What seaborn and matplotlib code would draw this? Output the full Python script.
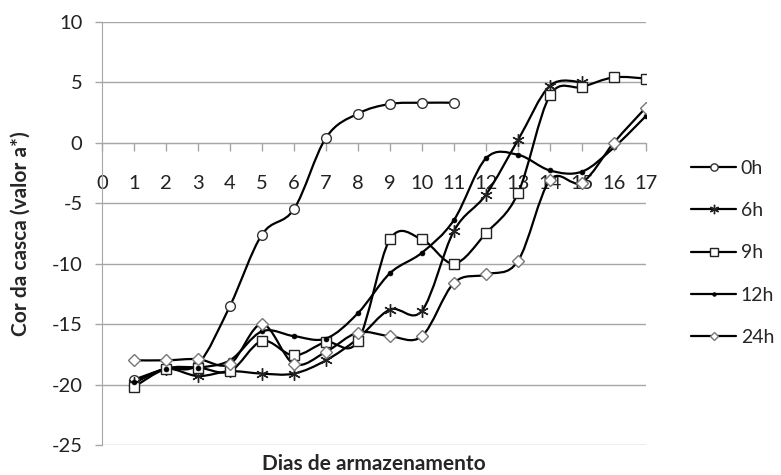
import numpy as np
import pandas as pd
import matplotlib
matplotlib.use('Agg')
import matplotlib.pyplot as plt
from matplotlib.path import Path
from matplotlib.patches import PathPatch
from matplotlib.lines import Line2D
import seaborn as sns

# valores (cor da casca, valor a*)
dias = list(range(1, 18))
h0 = [-19.6, -18.7, -18.3, -13.5, -7.6, -5.5, 0.4, 2.4, 3.2, 3.3, 3.3]
h6 = [-19.9, -18.7, -19.3, -18.9, -19.1, -19.1, -18.0, -16.2, -13.8, -13.9,
      -7.3, -4.3, 0.2, 4.7, 5.0]
h9 = [-20.2, -18.7, -18.6, -18.9, -16.4, -17.6, -16.5, -16.4, -8.0, -8.0,
      -10.0, -7.5, -4.2, 3.9, 4.6, 5.4, 5.3]
h12 = [-19.8, -18.7, -18.6, -18.0, -15.6, -16.0, -16.2, -14.1, -10.8, -9.1,
       -6.4, -1.3, -1.0, -2.3, -2.4, -0.4, 2.2]
h24 = [-18.0, -18.0, -17.9, -18.3, -15.0, -18.3, -17.3, -15.7, -16.0, -16.0,
       -11.6, -10.9, -9.8, -3.1, -3.3, 0.0, 2.9]
series_labels = ['0h', '6h', '9h', '12h', '24h']
series_values = [h0, h6, h9, h12, h24]
xtick_labels = [str(i) for i in range(0, 18)]
yticks = [-25, -20, -15, -10, -5, 0, 5, 10]

# estilo dos marcadores (tipo Excel)
marker_styles = {
    '0h': dict(marker='o', markersize=7, markerfacecolor='white', markeredgecolor='#333333', markeredgewidth=1),
    '6h': dict(marker=(6, 2, 0), markersize=9, markeredgecolor='#222222', markeredgewidth=1),
    '9h': dict(marker='s', markersize=7.5, markerfacecolor='white', markeredgecolor='#222222', markeredgewidth=1),
    '12h': dict(marker='o', markersize=3.5, markerfacecolor='black', markeredgecolor='black', markeredgewidth=0.5),
    '24h': dict(marker='D', markersize=6, markerfacecolor='white', markeredgecolor='#777777', markeredgewidth=1),
}


def smooth_path(x, y):
    # curva suavizada (Catmull-Rom -> Bezier) como no Excel
    pts = np.column_stack([x, y]).astype(float)
    verts = [pts[0]]
    codes = [Path.MOVETO]
    n = len(pts)
    for i in range(n - 1):
        p0 = pts[i - 1] if i > 0 else pts[i]
        p1 = pts[i]
        p2 = pts[i + 1]
        p3 = pts[i + 2] if i + 2 < n else pts[i + 1]
        verts += [p1 + (p2 - p0) / 6, p2 - (p3 - p1) / 6, p2]
        codes += [Path.CURVE4] * 3
    return Path(verts, codes)


sns.set_style('white')
plt.rcParams['font.family'] = ['Lato', 'DejaVu Sans']

fig = plt.figure(figsize=(7.81, 4.75), dpi=100)
ax = fig.add_axes([0.1306, 0.0632, 0.827 - 0.1306, 0.9543 - 0.0632])

for lab, vals in zip(series_labels, series_values):
    d = dias[:len(vals)]
    ax.add_patch(PathPatch(smooth_path(d, vals), fill=False, edgecolor='black',
                           linewidth=1.6, zorder=3))
    sns.lineplot(x=d, y=vals, linestyle='none', color='black', legend=False,
                 ax=ax, zorder=4, **marker_styles[lab])

ax.set_xlim(0, 17)
ax.set_ylim(-25, 10)
ax.set_yticks(yticks)
ax.set_yticklabels([str(v) for v in yticks])
ax.set_xticks(range(0, 18))
ax.set_xticklabels(xtick_labels)

ax.yaxis.grid(True, color='#a6a6a6', linewidth=1)
ax.xaxis.grid(False)
for s in ['top', 'right']:
    ax.spines[s].set_visible(False)
ax.spines['left'].set_color('#a6a6a6')
ax.spines['bottom'].set_position(('data', 0))
ax.spines['bottom'].set_color('#a6a6a6')
ax.spines['bottom'].set_zorder(1)

ax.tick_params(axis='y', direction='out', length=5, width=1, color='#a6a6a6',
               pad=9, labelsize=14.5, labelcolor='#222222', left=True)
ax.tick_params(axis='x', direction='out', length=6, width=1, color='#a6a6a6',
               pad=17, labelsize=14.5, labelcolor='#222222', bottom=True)

ax.set_xlabel('Dias de armazenamento', fontsize=15, fontweight='bold', labelpad=0)
ax.xaxis.set_label_coords(0.5, -0.022)
ax.set_ylabel('Cor da casca (valor a*)', fontsize=15, fontweight='bold')
ax.yaxis.set_label_coords(-0.132, 0.5)

handles = [Line2D([0], [0], color='black', linewidth=1.6, **dict(marker_styles[lab], markersize=marker_styles[lab]['markersize'] * 0.75))
           for lab in series_labels]
fig.legend(handles, series_labels, loc='upper left', bbox_to_anchor=(0.875, 0.68),
           frameon=False, fontsize=14, handlelength=2.3, handletextpad=0.25,
           labelspacing=1.3, borderaxespad=0)

fig.savefig('out.png', dpi=100)
